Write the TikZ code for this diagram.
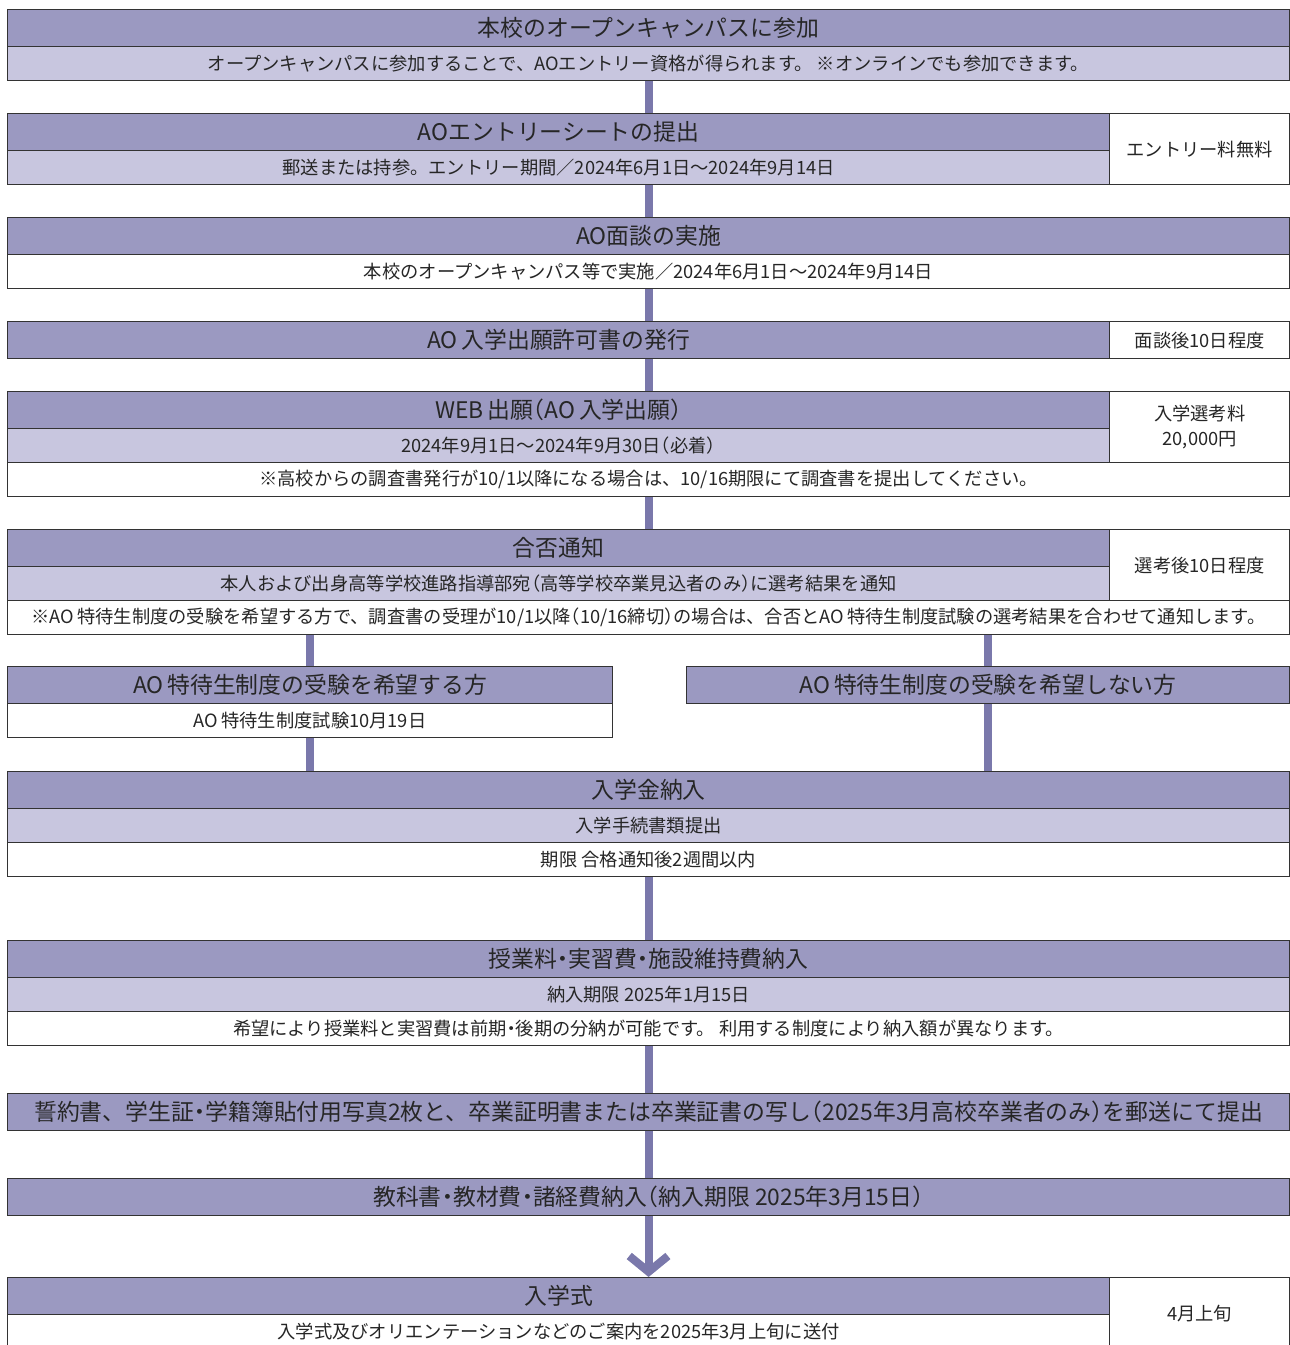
\documentclass[tikz,border=0pt]{standalone}
\usepackage{fontspec}
\setmainfont{Noto Sans CJK JP}
\newfontfamily\halffont[RawFeature=+halt]{Noto Sans CJK JP}
\newcommand\lpar{{\halffont （}}
\newcommand\rpar{{\halffont ）}}
\newcommand\mdot{{\halffont ・}}
\usetikzlibrary{arrows.meta}
\definecolor{hdrc}{HTML}{9B99C1}
\definecolor{subc}{HTML}{C8C6DF}
\definecolor{linkc}{HTML}{7A78AB}
\begin{document}
\begin{tikzpicture}[x=0.02cm,y=-0.02cm,
	box/.style={shape=rectangle, draw=black!80, line width=0.8pt, anchor=north west, inner sep=0pt, text=black!85},
	hdr/.style={box, fill=hdrc, minimum height=0.74cm, font=\fontsize{13}{15}\selectfont},
	sub/.style={box, fill=subc, minimum height=0.68cm, font=\fontsize{10.4}{12}\selectfont},
	note/.style={box, fill=white, minimum height=0.68cm, font=\fontsize{10.4}{12}\selectfont},
	side/.style={box, fill=white, minimum width=3.6cm, align=center, font=\fontsize{10.4}{14}\selectfont},
	full/.style={minimum width=25.64cm},
	main/.style={minimum width=22.04cm},
	half/.style={minimum width=12.1cm},
	link/.style={draw=linkc, line width=4.6pt}]
	\useasboundingbox (0,0) rectangle (1290,1345);
	% 1
	\node (camp) at (7,9) [hdr, full] {本校のオープンキャンパスに参加};
	\node (campsub) at (7,46) [sub, full] {オープンキャンパスに参加することで、AOエントリー資格が得られます。 ※オンラインでも参加できます。};
	% 2
	\node (entry) at (7,113) [hdr, main] {AOエントリーシートの提出};
	\node (entrysub) at (7,150) [sub, main] {郵送または持参。エントリー期間／2024年6月1日～2024年9月14日};
	\node (entryfee) at (1109,113) [side, minimum height=1.42cm] {エントリー料無料};
	% 3
	\node (mensetsu) at (7,217) [hdr, full] {AO面談の実施};
	\node (mensetsusub) at (7,254) [note, full] {本校のオープンキャンパス等で実施／2024年6月1日～2024年9月14日};
	% 4
	\node (kyoka) at (7,321) [hdr, main] {AO\,入学出願許可書の発行};
	\node (kyokaside) at (1109,321) [side, minimum height=0.74cm] {面談後10日程度};
	% 5
	\node (web) at (7,391) [hdr, main] {WEB\,出願\lpar AO\,入学出願\rpar};
	\node (websub) at (7,428) [sub, main] {2024年9月1日～2024年9月30日\lpar 必着\rpar};
	\node (webfee) at (1109,391) [side, minimum height=1.42cm] {入学選考料\\20,000円};
	\node (webnote) at (7,462) [note, full] {※高校からの調査書発行が10/1以降になる場合は、10/16期限にて調査書を提出してください。};
	% 6
	\node (gohi) at (7,529) [hdr, main] {合否通知};
	\node (gohisub) at (7,566) [sub, main] {本人および出身高等学校進路指導部宛\lpar 高等学校卒業見込者のみ\rpar に選考結果を通知};
	\node (gohiside) at (1109,529) [side, minimum height=1.42cm] {選考後10日程度};
	\node (gohinote) at (7,600) [note, full] {※AO\,特待生制度の受験を希望する方で、調査書の受理が10/1以降\lpar 10/16締切\rpar の場合は、合否とAO\,特待生制度試験の選考結果を合わせて通知します。};
	% 7
	\node (tokutai) at (7,666) [hdr, half] {AO\,特待生制度の受験を希望する方};
	\node (tokutaisub) at (7,703) [note, half] {AO\,特待生制度試験10月19日};
	\node (notoku) at (686,666) [hdr, minimum width=12.06cm] {AO\,特待生制度の受験を希望しない方};
	% 8
	\node (nyugaku) at (7,771) [hdr, full] {入学金納入};
	\node (nyugakusub) at (7,808) [sub, full] {入学手続書類提出};
	\node (nyugakunote) at (7,842) [note, full] {期限 合格通知後2週間以内};
	% 9
	\node (jugyo) at (7,940) [hdr, full] {授業料\mdot 実習費\mdot 施設維持費納入};
	\node (jugyosub) at (7,977) [sub, full] {納入期限 2025年1月15日};
	\node (jugyonote) at (7,1011) [note, full] {希望により授業料と実習費は前期\mdot 後期の分納が可能です。 利用する制度により納入額が異なります。};
	% 10
	\node (seiyaku) at (7,1093) [hdr, full] {誓約書、学生証\mdot 学籍簿貼付用写真2枚と、卒業証明書または卒業証書の写し\lpar 2025年3月高校卒業者のみ\rpar を郵送にて提出};
	% 11
	\node (kyokasho) at (7,1178) [hdr, full] {教科書\mdot 教材費\mdot 諸経費納入\lpar 納入期限 2025年3月15日\rpar};
	% 12
	\node (shiki) at (7,1277) [hdr, main] {入学式};
	\node (shikisub) at (7,1314) [note, main] {入学式及びオリエンテーションなどのご案内を2025年3月上旬に送付};
	\node (shikiside) at (1109,1277) [side, minimum height=1.44cm] {4月上旬};
	% connectors
	\draw [link] (campsub.south) -- (entry.north -| campsub.south);
	\draw [link] (entrysub.south -| campsub) -- (mensetsu.north);
	\draw [link] (mensetsusub.south) -- (kyoka.north -| mensetsusub.south);
	\draw [link] (kyoka.south -| camp) -- (web.north -| camp);
	\draw [link] (webnote.south) -- (gohi.north -| webnote.south);
	\draw [link] (gohinote.south -| tokutai) -- (tokutai.north);
	\draw [link] (gohinote.south -| notoku) -- (notoku.north);
	\draw [link] (tokutaisub.south) -- (nyugaku.north -| tokutaisub.south);
	\draw [link] (notoku.south) -- (nyugaku.north -| notoku.south);
	\draw [link] (nyugakunote.south) -- (jugyo.north);
	\draw [link] (jugyonote.south) -- (seiyaku.north);
	\draw [link] (seiyaku.south) -- (kyokasho.north);
	\draw [link, -{Straight Barb[length=9pt, width=22pt]}] (kyokasho.south) -- (shiki.north -| kyokasho.south);
\end{tikzpicture}
\end{document}
